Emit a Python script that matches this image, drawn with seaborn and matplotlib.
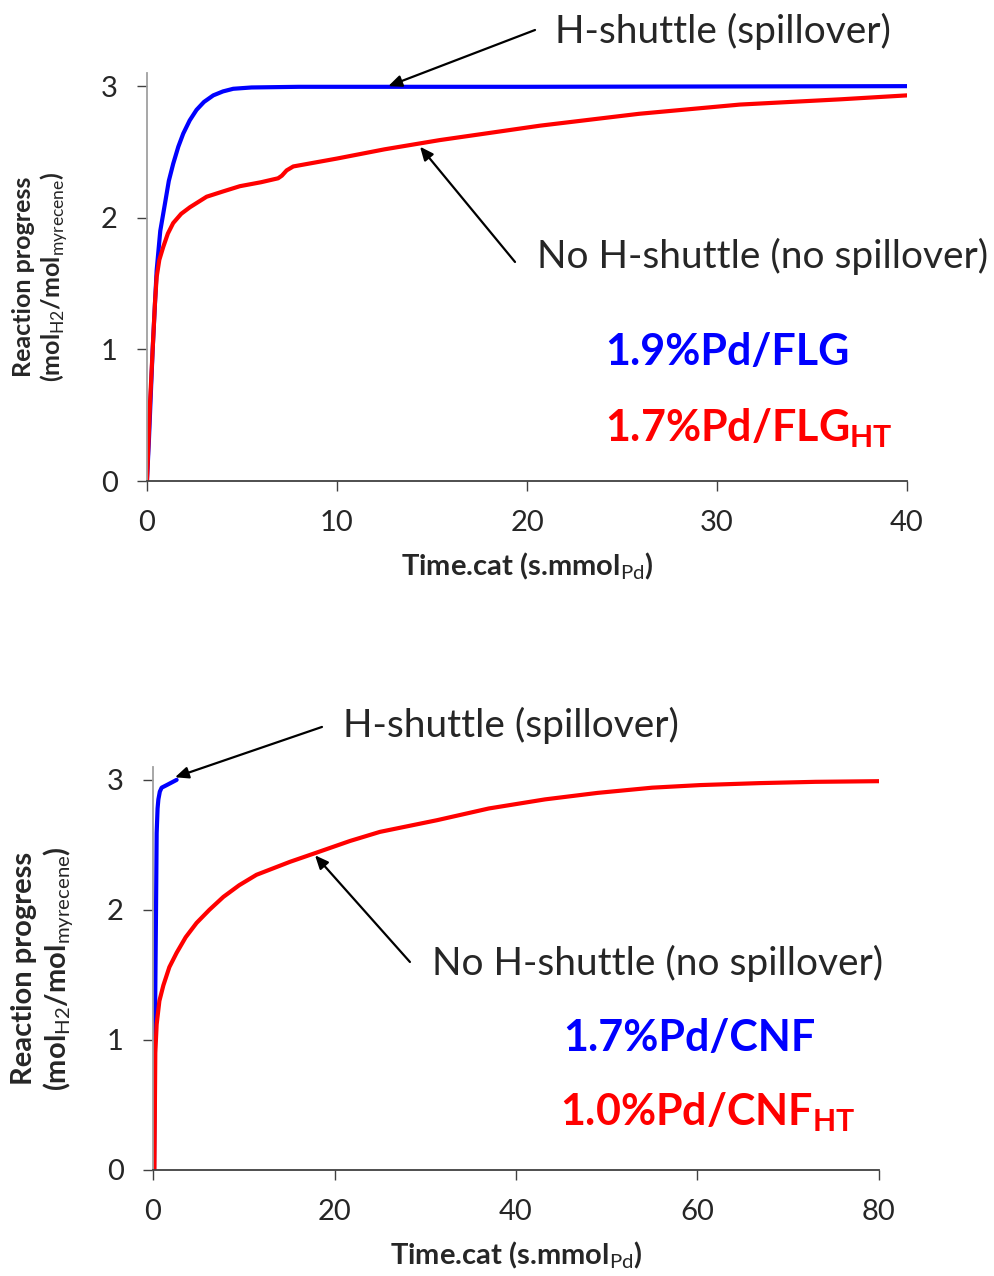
import matplotlib
matplotlib.use("Agg")
from matplotlib import pyplot as plt
import pandas as pd
import seaborn as sns

# top panel: FLG catalysts
flg_t = [0, 0.1, 0.3, 0.51, 0.7, 0.95, 1.15, 1.38, 1.65, 1.91, 2.25, 2.61, 3.0,
         3.49, 4.0, 4.54, 5.5, 8.0, 20, 40]
flg_y = [0, 0.3, 1.0, 1.60, 1.90, 2.11, 2.28, 2.41, 2.54, 2.64, 2.74, 2.82, 2.88,
         2.93, 2.96, 2.98, 2.99, 2.995, 2.995, 3.0]

flght_t = [0, 0.16, 0.42, 0.51, 0.65, 0.86, 1.1, 1.38, 1.8, 2.26, 3.14, 4.0, 4.89,
           6.0, 6.9, 7.1, 7.35, 7.7, 10, 12.5, 15.4, 20.7, 25.9, 31.2, 36.5, 40]
flght_y = [0, 0.59, 1.35, 1.55, 1.68, 1.78, 1.88, 1.96, 2.03, 2.08, 2.16, 2.20, 2.24,
           2.27, 2.30, 2.32, 2.36, 2.39, 2.45, 2.52, 2.59, 2.70, 2.79, 2.86, 2.90, 2.93]

# bottom panel: CNF catalysts
cnf_t = [0.11, 0.22, 0.33, 0.40, 0.5, 0.59, 0.75, 0.95, 1.51, 2.6]
cnf_y = [0, 1.15, 2.0, 2.59, 2.78, 2.85, 2.91, 2.94, 2.96, 3.0]

cnfht_t = [0.15, 0.25, 0.4, 0.7, 1.14, 1.8, 2.6, 3.6, 4.8, 6.2, 7.75, 9.5, 11.4,
           15.1, 18.0, 21.7, 25, 31.3, 37, 43.2, 49, 55, 60.3, 66.8, 73, 80]
cnfht_y = [0, 0.9, 1.12, 1.30, 1.42, 1.56, 1.67, 1.79, 1.90, 2.00, 2.10, 2.19, 2.27,
           2.37, 2.44, 2.53, 2.60, 2.69, 2.78, 2.85, 2.90, 2.94, 2.96, 2.975, 2.985, 2.99]

sns.set_style("ticks")
plt.rcParams['font.family'] = ['Lato', 'DejaVu Sans']
plt.rcParams['mathtext.fontset'] = 'custom'
plt.rcParams['mathtext.rm'] = 'Lato'
plt.rcParams['mathtext.bf'] = 'Lato:bold'

fig = plt.figure(figsize=(9.95, 12.76), dpi=100)
ax1 = fig.add_axes([0.1477, 0.623, 0.7639, 0.3198])
ax2 = fig.add_axes([0.1538, 0.0831, 0.7296, 0.3159])

df_top = pd.concat([
    pd.DataFrame({"t": flg_t, "y": flg_y, "cat": "FLG"}),
    pd.DataFrame({"t": flght_t, "y": flght_y, "cat": "FLG_HT"}),
])
df_bot = pd.concat([
    pd.DataFrame({"t": cnf_t, "y": cnf_y, "cat": "CNF"}),
    pd.DataFrame({"t": cnfht_t, "y": cnfht_y, "cat": "CNF_HT"}),
])

sns.lineplot(data=df_top, x="t", y="y", hue="cat", palette=["#0000ff", "#ff0000"],
             hue_order=["FLG", "FLG_HT"], sort=False, lw=3, legend=False, ax=ax1)
sns.lineplot(data=df_bot, x="t", y="y", hue="cat", palette=["#0000ff", "#ff0000"],
             hue_order=["CNF", "CNF_HT"], sort=False, lw=3, legend=False, ax=ax2)
for ax in (ax1, ax2):
    for ln in ax.lines:
        ln.set_solid_joinstyle("round")
        ln.set_solid_capstyle("round")

ylab = "Reaction progress\n(mol$_{\\mathrm{H2}}$/mol$_{\\mathrm{myrecene}}$)"
xlab = "Time.cat (s.mmol$_{\\mathrm{Pd}}$)"

for ax, xmax, step, ysize in [(ax1, 40, 10, 18), (ax2, 80, 20, 21)]:
    ax.set_xlim(0, xmax)
    ax.set_ylim(0, 3.1)
    ax.set_xticks(range(0, xmax + 1, step))
    ax.set_yticks([0, 1, 2, 3])
    sns.despine(ax=ax)
    ax.spines['left'].set_color("#a0a0a0")
    ax.spines['bottom'].set_color("#404040")
    ax.spines['left'].set_linewidth(1.3)
    ax.spines['bottom'].set_linewidth(1.3)
    ax.tick_params(axis='both', labelsize=21, length=7, width=1, color="#404040", pad=14)
    ax.set_xlabel(xlab, fontsize=21, fontweight="bold", labelpad=10)
    ax.set_ylabel(ylab, fontsize=ysize, fontweight="bold", labelpad=22)

arrow = dict(arrowstyle="-|>,head_length=0.8,head_width=0.35", color="black", lw=1.6,
             shrinkA=0, shrinkB=0)

ax1.annotate("", xy=(12.7, 3.0), xytext=(0.5377, 0.9765), textcoords="figure fraction",
             arrowprops=arrow)
ax1.annotate("", xy=(14.37, 2.54), xytext=(0.5176, 0.7947), textcoords="figure fraction",
             arrowprops=arrow)
ax2.annotate("", xy=(2.42, 3.02), xytext=(0.3236, 0.4303), textcoords="figure fraction",
             arrowprops=arrow)
ax2.annotate("", xy=(17.85, 2.42), xytext=(0.412, 0.2461), textcoords="figure fraction",
             arrowprops=arrow)

fig.text(0.5578, 0.975, "H-shuttle (spillover)", fontsize=28, va="center")
fig.text(0.5397, 0.7994, "No H-shuttle (no spillover)", fontsize=28, va="center")
fig.text(0.608, 0.7241, "1.9%Pd/FLG", fontsize=31, fontweight="bold", color="#0000ff", va="center")
fig.text(0.608, 0.6646, "1.7%Pd/FLG$_{\\mathbf{HT}}$", fontsize=31, fontweight="bold",
         color="#ff0000", va="center")

fig.text(0.3447, 0.4318, "H-shuttle (spillover)", fontsize=28, va="center")
fig.text(0.4342, 0.2453, "No H-shuttle (no spillover)", fontsize=28, va="center")
fig.text(0.5658, 0.1865, "1.7%Pd/CNF", fontsize=31, fontweight="bold", color="#0000ff", va="center")
fig.text(0.5628, 0.1285, "1.0%Pd/CNF$_{\\mathbf{HT}}$", fontsize=31, fontweight="bold",
         color="#ff0000", va="center")

fig.savefig("out.png", dpi=100)
